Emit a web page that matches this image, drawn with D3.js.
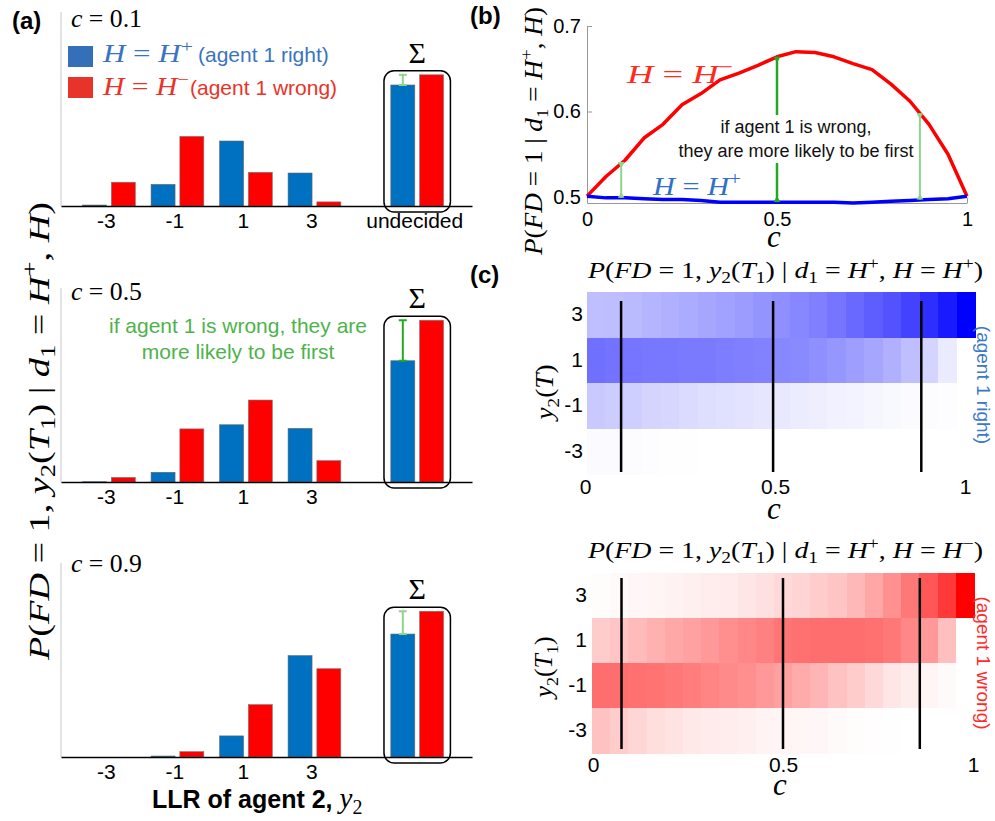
<!DOCTYPE html>
<html lang="en">
<head>
  <meta charset="UTF-8">
  <title>First decision probabilities</title>
  <script src="https://d3js.org/d3.v7.min.js"></script>
  <style>
    body { margin: 0; background: #fff; }
    svg { display: block; font-family: "Liberation Sans", Arial, sans-serif; }
    .math { font-family: "Liberation Serif", "DejaVu Serif", serif; white-space: pre; }
  </style>
</head>
<body>
<div id="chart"></div>
<script>
// ---- values ----
const llrBins = [-3, -1, 1, 3];
const panelCs = ['0.1', '0.5', '0.9'];
// P(FD=1, y2 | d1=H+, H) per LLR bin
const rightBars = [
  [0.004, 0.089, 0.268, 0.136],
  [0.001, 0.040, 0.236, 0.221],
  [0.000, 0.004, 0.087, 0.418]
];
const wrongBars = [
  [0.098, 0.287, 0.139, 0.017],
  [0.019, 0.219, 0.338, 0.088],
  [0.000, 0.022, 0.216, 0.364]
];
const rightSum = [0.499, 0.500, 0.507];
const wrongSum = [0.541, 0.667, 0.601];

const cValues = [0, 0.05, 0.1, 0.15, 0.2, 0.25, 0.3, 0.35, 0.4, 0.45, 0.5,
                 0.55, 0.6, 0.65, 0.7, 0.75, 0.8, 0.85, 0.9, 0.95, 1];
const firstRight = [0.501, 0.499, 0.499, 0.498, 0.497, 0.497, 0.496, 0.494, 0.494, 0.494, 0.494,
                    0.494, 0.494, 0.494, 0.493, 0.494, 0.495, 0.496, 0.497, 0.498, 0.501];
const firstWrong = [0.501, 0.524, 0.543, 0.569, 0.585, 0.608, 0.621, 0.637, 0.645, 0.654, 0.664,
                    0.670, 0.669, 0.664, 0.656, 0.649, 0.632, 0.612, 0.585, 0.550, 0.501];
const gapC = [0.09, 0.5, 0.876];
const gapLo = [0.499, 0.494, 0.497];
const gapHi = [0.541, 0.664, 0.598];

const y2Rows = [3, 1, -1, -3];
const heatRight = [
  [0.125, 0.130, 0.135, 0.145, 0.155, 0.165, 0.175, 0.185, 0.195, 0.210, 0.220, 0.235, 0.250, 0.270, 0.295, 0.315, 0.340, 0.370, 0.410, 0.450, 0.500],
  [0.280, 0.275, 0.270, 0.265, 0.265, 0.260, 0.260, 0.255, 0.250, 0.245, 0.235, 0.230, 0.220, 0.205, 0.190, 0.175, 0.155, 0.125, 0.085, 0.040, 0.000],
  [0.105, 0.100, 0.095, 0.085, 0.080, 0.070, 0.065, 0.060, 0.055, 0.050, 0.045, 0.038, 0.033, 0.028, 0.023, 0.018, 0.013, 0.010, 0.006, 0.003, 0.000],
  [0.010, 0.008, 0.005, 0.004, 0.002, 0.001, 0.000, 0.000, 0.000, 0.000, 0.000, 0.000, 0.000, 0.000, 0.000, 0.000, 0.000, 0.000, 0.000, 0.000, 0.000]
];
const heatWrong = [
  [0.005, 0.010, 0.015, 0.020, 0.025, 0.030, 0.035, 0.040, 0.050, 0.060, 0.075, 0.085, 0.100, 0.115, 0.140, 0.175, 0.215, 0.265, 0.330, 0.390, 0.500],
  [0.100, 0.115, 0.135, 0.155, 0.170, 0.185, 0.200, 0.220, 0.235, 0.250, 0.270, 0.280, 0.285, 0.285, 0.285, 0.280, 0.265, 0.235, 0.200, 0.125, 0.000],
  [0.285, 0.285, 0.280, 0.275, 0.265, 0.255, 0.240, 0.230, 0.220, 0.200, 0.185, 0.165, 0.145, 0.120, 0.100, 0.075, 0.050, 0.035, 0.020, 0.010, 0.000],
  [0.120, 0.100, 0.080, 0.065, 0.055, 0.045, 0.040, 0.035, 0.030, 0.023, 0.020, 0.018, 0.015, 0.010, 0.006, 0.003, 0.002, 0.000, 0.000, 0.000, 0.000]
];
const markRight = [0.095, 0.495, 0.885];
const markWrong = [0.075, 0.5, 0.86];

// ---- drawing ----
const sans = '"Liberation Sans", Arial, sans-serif';
const blue = '#0070c0', red = '#ff0000';
const lightGreen = '#8fd48a', darkGreen = '#22aa22';

const svg = d3.select('#chart').append('svg').attr('width', 995).attr('height', 821);

// text with italic / sub / sup parts: [string, 'i'|'r'|'b'(sub)|'p'(sup)]
function mathText(parent, parts, o) {
  const t = parent.append('text').attr('class', 'math')
    .attr('x', o.x).attr('y', o.y).attr('font-size', o.size)
    .attr('text-anchor', o.anchor || 'start').attr('fill', o.fill || '#000');
  if (o.rotate) t.attr('transform', `rotate(${o.rotate},${o.x},${o.y})`);
  let shift = 0;
  parts.forEach(([s, k]) => {
    const target = k === 'b' ? 0.22 * o.size : k === 'p' ? -0.4 * o.size : 0;
    const ts = t.append('tspan').text(s);
    if (target !== shift) ts.attr('dy', target - shift);
    shift = target;
    if (k === 'i') ts.attr('font-style', 'italic');
    if (k === 'b' || k === 'p') ts.attr('font-size', o.size * 0.7);
  });
  if (o.len) t.attr('textLength', o.len).attr('lengthAdjust', 'spacingAndGlyphs');
  return t;
}

function panelLabel(txt, x, y) {
  svg.append('text').attr('x', x).attr('y', y).attr('font-size', 24)
    .attr('font-weight', 'bold').text(txt);
}

// ===== (a) bar charts =====
const xa = d3.scaleLinear().domain([-4.4, 7.6]).range([61, 472]);
const undecided = 6;
const barW = 0.7, barOff = 0.07;
const aBase = [206, 482, 757];
const aHeight = 194;
const cLabelY = [27, 300, 572];
const gapColor = [lightGreen, darkGreen, lightGreen];

panelCs.forEach((cLabel, i) => {
  const base = aBase[i];
  const y = d3.scaleLinear().domain([0, 0.8]).range([base, base - aHeight]);
  const g = svg.append('g');

  g.append('line').attr('x1', xa(-4.4)).attr('x2', xa(-4.4))
    .attr('y1', y(0.8)).attr('y2', base).attr('stroke', '#c8c8c8');

  const cats = llrBins.concat([undecided]);
  const right = rightBars[i].concat([rightSum[i]]);
  const wrong = wrongBars[i].concat([wrongSum[i]]);
  const bw = xa(barW) - xa(0);

  g.selectAll('rect.right').data(cats).join('rect').attr('class', 'right')
    .attr('x', d => xa(d - barOff - barW)).attr('width', bw)
    .attr('y', (d, j) => y(right[j])).attr('height', (d, j) => base - y(right[j]))
    .attr('fill', blue).attr('stroke', '#666').attr('stroke-width', 0.6);
  g.selectAll('rect.wrong').data(cats).join('rect').attr('class', 'wrong')
    .attr('x', d => xa(d + barOff)).attr('width', bw)
    .attr('y', (d, j) => y(wrong[j])).attr('height', (d, j) => base - y(wrong[j]))
    .attr('fill', red).attr('stroke', '#777').attr('stroke-width', 0.6);

  const axis = d3.axisBottom(xa).tickValues(i === 0 ? cats : llrBins)
    .tickFormat(d => d === undecided ? 'undecided' : String(d))
    .tickSize(0).tickPadding(7);
  const ag = g.append('g').attr('transform', `translate(0,${base})`).call(axis)
    .attr('font-size', 21).attr('font-family', sans);
  ag.select('.domain').attr('stroke', '#000').attr('stroke-width', 1.3);
  ag.selectAll('.tick text').attr('dx', -3);

  // sum box
  const top = y(wrongSum[i]) - 4;
  g.append('rect').attr('x', xa(undecided - 0.97)).attr('width', xa(1.94) - xa(0))
    .attr('y', top).attr('height', base + 6 - top).attr('rx', 10)
    .attr('fill', 'none').attr('stroke', '#000').attr('stroke-width', 1.5);
  g.append('text').attr('class', 'math').attr('x', xa(undecided)).attr('y', top - 8)
    .attr('text-anchor', 'middle').attr('font-size', 30).text('Σ');

  // difference bar
  const ex = xa(undecided - barOff - barW / 2);
  const eg = g.append('g').attr('stroke', gapColor[i]).attr('stroke-width', 2);
  eg.append('line').attr('x1', ex).attr('x2', ex)
    .attr('y1', y(wrongSum[i])).attr('y2', y(rightSum[i]));
  [wrongSum[i], rightSum[i]].forEach(v => {
    eg.append('line').attr('x1', ex - 4).attr('x2', ex + 4).attr('y1', y(v)).attr('y2', y(v));
  });

  mathText(g, [['c', 'i'], [' = ' + cLabel, 'r']], { x: 71, y: cLabelY[i], size: 25, len: 71 });
});

// legend
const legBlue = '#3a74c0', legRed = '#ea3328';
svg.append('rect').attr('x', 68).attr('y', 46).attr('width', 25).attr('height', 21).attr('fill', '#3370b8');
svg.append('rect').attr('x', 68).attr('y', 77).attr('width', 25).attr('height', 21).attr('fill', '#e8332a');
mathText(svg, [['H', 'i'], [' = ', 'r'], ['H', 'i'], ['+', 'p']], { x: 103, y: 62, size: 25, len: 90, fill: legBlue });
svg.append('text').attr('x', 198).attr('y', 62).attr('font-size', 21).attr('fill', legBlue).text('(agent 1 right)');
mathText(svg, [['H', 'i'], [' = ', 'r'], ['H', 'i'], ['−', 'p']], { x: 103, y: 95, size: 25, len: 86, fill: legRed });
svg.append('text').attr('x', 190).attr('y', 95).attr('font-size', 21).attr('fill', legRed).text('(agent 1 wrong)');

// green note in middle panel
const gNote = svg.append('text').attr('text-anchor', 'middle').attr('font-size', 21).attr('fill', '#4db34a');
gNote.append('tspan').attr('x', 238).attr('y', 333).text('if agent 1 is wrong, they are');
gNote.append('tspan').attr('x', 238).attr('y', 359).text('more likely to be first');

// y label and x label
mathText(svg, [['P', 'i'], ['(', 'r'], ['FD', 'i'], [' = 1, ', 'r'], ['y', 'i'], ['2', 'b'], ['(', 'r'],
  ['T', 'i'], ['1', 'b'], [') | ', 'r'], ['d', 'i'], ['1', 'b'], [' = ', 'r'], ['H', 'i'], ['+', 'p'],
  [', ', 'r'], ['H', 'i'], [')', 'r']], { x: 49, y: 431, size: 29, anchor: 'middle', rotate: -90, len: 458 });

const xl = svg.append('text').attr('x', 152).attr('y', 808);
xl.append('tspan').attr('font-size', 25).attr('font-weight', 'bold').text('LLR of agent 2, ');
xl.append('tspan').attr('class', 'math').attr('font-size', 29).attr('font-style', 'italic').text('y');
xl.append('tspan').attr('class', 'math').attr('font-size', 20).attr('dy', 6).text('2');

panelLabel('(a)', 12, 29);

// ===== (b) line chart =====
const xb = d3.scaleLinear().domain([0, 1]).range([587, 967]);
const yb = d3.scaleLinear().domain([0.493, 0.7]).range([203, 26]);
const bg = svg.append('g');

const byAx = bg.append('g').attr('transform', `translate(${xb(0)},0)`)
  .call(d3.axisLeft(yb).tickValues([0.5, 0.6, 0.7]).tickFormat(d3.format('.1f'))
    .tickSizeInner(-5).tickSizeOuter(0).tickPadding(6))
  .attr('font-size', 20).attr('font-family', sans);
const bxAx = bg.append('g').attr('transform', `translate(0,${yb(0.493)})`)
  .call(d3.axisBottom(xb).tickValues([0, 0.5, 1]).tickFormat(String)
    .tickSizeInner(-5).tickSizeOuter(0).tickPadding(9))
  .attr('font-size', 20).attr('font-family', sans);
[byAx, bxAx].forEach(a => {
  a.select('.domain').attr('stroke', '#999');
  a.selectAll('.tick line').attr('stroke', '#999');
});

const curve = d3.line().x((d, j) => xb(cValues[j])).y(d => yb(d));
bg.append('path').datum(firstWrong).attr('d', curve).attr('fill', 'none')
  .attr('stroke', '#ff0000').attr('stroke-width', 3.5).attr('stroke-linejoin', 'round');
bg.append('path').datum(firstRight).attr('d', curve).attr('fill', 'none')
  .attr('stroke', '#0000ff').attr('stroke-width', 3.5).attr('stroke-linejoin', 'round');

const note = bg.append('text').attr('text-anchor', 'middle').attr('font-size', 18).attr('fill', '#111');
note.append('tspan').attr('x', 796).attr('y', 133).text('if agent 1 is wrong,');
note.append('tspan').attr('x', 796).attr('y', 157).text('they are more likely to be first');
const nb = note.node().getBBox();

gapC.forEach((c, j) => {
  const x = xb(c), y1 = yb(gapHi[j]), y2 = yb(gapLo[j]);
  const col = j === 1 ? darkGreen : lightGreen;
  const segs = (x > nb.x && x < nb.x + nb.width)
    ? [[y1, nb.y - 2], [nb.y + nb.height + 2, y2]] : [[y1, y2]];
  segs.forEach(([a, b]) => {
    bg.append('line').attr('x1', x).attr('x2', x).attr('y1', a).attr('y2', b)
      .attr('stroke', col).attr('stroke-width', j === 1 ? 2.5 : 2);
  });
  const tri = d3.symbol().type(d3.symbolTriangle).size(20);
  bg.append('path').attr('d', tri).attr('fill', col)
    .attr('transform', `translate(${x},${y1 + 2}) rotate(180)`);
  bg.append('path').attr('d', tri).attr('fill', col)
    .attr('transform', `translate(${x},${y2 - 2})`);
});

mathText(bg, [['H', 'i'], [' = ', 'r'], ['H', 'i'], ['−', 'p']], { x: 627, y: 83, size: 26, len: 106, fill: '#ff2a1f' });
mathText(bg, [['H', 'i'], [' = ', 'r'], ['H', 'i'], ['+', 'p']], { x: 653, y: 195, size: 26, len: 88, fill: '#2f70c8' });
mathText(bg, [['c', 'i']], { x: 774, y: 247, size: 31, anchor: 'middle' });
mathText(bg, [['P', 'i'], ['(', 'r'], ['FD', 'i'], [' = 1 | ', 'r'], ['d', 'i'], ['1', 'b'], [' = ', 'r'],
  ['H', 'i'], ['+', 'p'], [', ', 'r'], ['H', 'i'], [')', 'r']],
  { x: 542, y: 131, size: 25, anchor: 'middle', rotate: -90, len: 248 });

panelLabel('(b)', 470, 24);

// ===== (c) heatmaps =====
const heatSpecs = [
  {
    vals: heatRight, hue: '#0000ff', x0: 587, x1: 975, y0: 292, y1: 474, ax: [585, 965],
    marks: markRight, lineY: [301, 472], titleY: 278, sign: '+', cY: 519, cX: 774, tickPad: 5,
    ylab: [['y', 'i'], ['2', 'b'], ['(', 'r'], ['T', 'i'], [')', 'r']], ylabX: 553, ylabY: 392, ylabLen: 55,
    side: '(agent 1 right)', sideColor: '#3a78c8', sideY: 385, yPad: 4
  },
  {
    vals: heatWrong, hue: '#ff0000', x0: 592, x1: 974, y0: 573, y1: 753, ax: [593, 973],
    marks: markWrong, lineY: [578, 749], titleY: 558, sign: '−', cY: 795, cX: 780, tickPad: 4,
    ylab: [['y', 'i'], ['2', 'b'], ['(', 'r'], ['T', 'i'], ['1', 'b'], [')', 'r']], ylabX: 552, ylabY: 667, ylabLen: 61,
    side: '(agent 1 wrong)', sideColor: '#ff2a2a', sideY: 663, yPad: 5
  }
];

heatSpecs.forEach(s => {
  const g = svg.append('g');
  const colX = d3.scaleBand().domain(cValues).range([s.x0, s.x1]);
  const rowY = d3.scaleBand().domain(y2Rows).range([s.y0, s.y1]);
  const color = d3.scaleLinear().domain([0, 0.5]).range(['#ffffff', s.hue]);
  const xl = d3.scaleLinear().domain([0, 1]).range(s.ax);

  const cells = [];
  y2Rows.forEach((r, ri) => cValues.forEach((c, ci) => cells.push({ r, c, v: s.vals[ri][ci] })));
  g.selectAll('rect').data(cells).join('rect')
    .attr('x', d => colX(d.c)).attr('y', d => rowY(d.r))
    .attr('width', colX.bandwidth() + 0.5).attr('height', rowY.bandwidth() + 0.5)
    .attr('fill', d => color(d.v)).attr('shape-rendering', 'crispEdges');

  g.selectAll('line.mark').data(s.marks).join('line').attr('class', 'mark')
    .attr('x1', d => xl(d)).attr('x2', d => xl(d))
    .attr('y1', s.lineY[0]).attr('y2', s.lineY[1])
    .attr('stroke', '#000').attr('stroke-width', 2.5);

  const xa2 = g.append('g').attr('transform', `translate(0,${s.y1})`)
    .call(d3.axisBottom(xl).tickValues([0, 0.5, 1]).tickFormat(String).tickSize(0).tickPadding(s.tickPad))
    .attr('font-size', 21).attr('font-family', sans);
  xa2.select('.domain').remove();
  const ya2 = g.append('g').attr('transform', `translate(${s.x0},0)`)
    .call(d3.axisLeft(rowY).tickFormat(String).tickSize(0).tickPadding(s.yPad))
    .attr('font-size', 21).attr('font-family', sans);
  ya2.select('.domain').remove();

  mathText(g, [['P', 'i'], ['(', 'r'], ['FD', 'i'], [' = 1, ', 'r'], ['y', 'i'], ['2', 'b'], ['(', 'r'],
    ['T', 'i'], ['1', 'b'], [') | ', 'r'], ['d', 'i'], ['1', 'b'], [' = ', 'r'], ['H', 'i'], ['+', 'p'],
    [', ', 'r'], ['H', 'i'], [' = ', 'r'], ['H', 'i'], [s.sign, 'p'], [')', 'r']],
    { x: 588, y: s.titleY, size: 23, len: 395 });
  mathText(g, [['c', 'i']], { x: s.cX, y: s.cY, size: 31, anchor: 'middle' });
  mathText(g, s.ylab, { x: s.ylabX, y: s.ylabY, size: 25, anchor: 'middle', rotate: -90, len: s.ylabLen });

  g.append('text').attr('x', 977).attr('y', s.sideY).attr('text-anchor', 'middle')
    .attr('font-size', 19).attr('fill', s.sideColor)
    .attr('transform', `rotate(90,977,${s.sideY})`).text(s.side);
});

panelLabel('(c)', 470, 283);
</script>
</body>
</html>
